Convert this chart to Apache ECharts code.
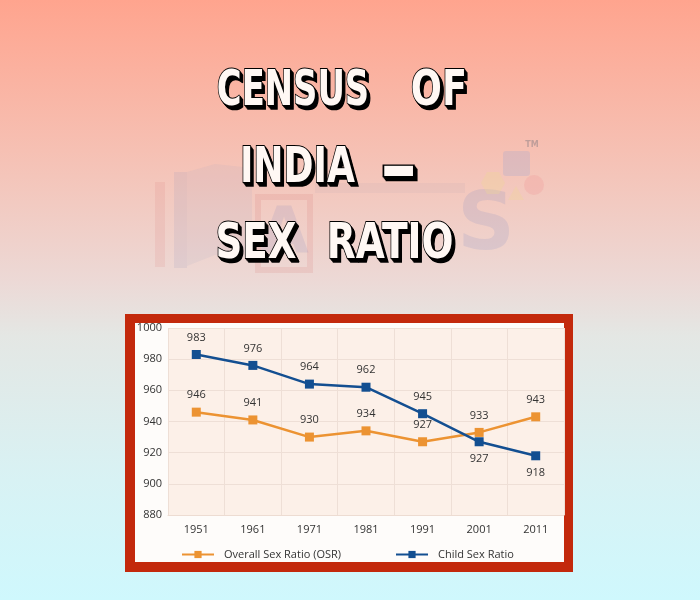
<!DOCTYPE html>
<html><head><meta charset="utf-8">
<script src="https://cdn.jsdelivr.net/npm/echarts@6/dist/echarts.min.js"></script>
<style>html,body{margin:0;padding:0;}#c{width:700px;height:600px;}</style>
</head><body><div id="c"></div>
<script>
// ---- data ----
const years = ['1951','1961','1971','1981','1991','2001','2011'];
const osrValues = [946, 941, 930, 934, 927, 933, 943];
const childValues = [983, 976, 964, 962, 945, 927, 918];
const childLabelBelow = [false, false, false, false, false, true, true];
const seriesNames = ['Overall Sex Ratio (OSR)', 'Child Sex Ratio'];
const yMin = 880, yMax = 1000, yStep = 20;
const titleLines = ['CENSUS OF', 'INDIA -', 'SEX RATIO'];

// ---- title layout (word ink boxes) ----
const titleBoxes = [
  {t:'CENSUS', x1:218, x2:367, y1:68, y2:106},
  {t:'OF',     x1:412, x2:464, y1:68, y2:106},
  {t:'INDIA',  x1:243, x2:355, y1:145, y2:182},
  {t:'-',      x1:384, x2:413, y1:164, y2:175},
  {t:'SEX',    x1:218, x2:296, y1:221, y2:259},
  {t:'RATIO',  x1:330, x2:452, y1:221, y2:259}
];
const TFONT = 'bold 58px "DejaVu Sans"';
const mctx = document.createElement('canvas').getContext('2d');
mctx.font = TFONT; mctx.textBaseline = 'middle'; mctx.textAlign = 'left';

const graphics = [];
// watermark (faint)
const wm = (o) => { o.z = -30; o.silent = true; graphics.push(o); };
wm({type:'rect', shape:{x:155,y:182,width:10,height:85}, style:{fill:'rgba(215,110,110,0.12)'}});
wm({type:'rect', shape:{x:174,y:172,width:13,height:96}, style:{fill:'rgba(130,140,185,0.13)'}});
wm({type:'polygon', shape:{points:[[187,172],[215,164],[252,168],[252,258],[215,255],[187,266]]}, style:{fill:'rgba(150,155,195,0.10)'}});
wm({type:'rect', shape:{x:258,y:197,width:52,height:73}, style:{fill:'none', stroke:'rgba(205,90,90,0.13)', lineWidth:6}});
wm({type:'text', x:284, y:236, style:{text:'A', font:'bold 64px "DejaVu Sans"', fill:'rgba(120,130,185,0.15)', align:'center', verticalAlign:'middle'}});
wm({type:'rect', shape:{x:315,y:183,width:150,height:10}, style:{fill:'rgba(140,140,160,0.08)'}});
wm({type:'text', x:486, y:228, style:{text:'S', font:'bold 80px "DejaVu Sans"', fill:'rgba(110,130,195,0.15)', align:'center', verticalAlign:'middle'}});
wm({type:'rect', shape:{x:503,y:151,width:27,height:25,r:3}, style:{fill:'rgba(140,160,215,0.22)'}});
wm({type:'polygon', shape:{points:[[481,183],[487,172],[499,172],[505,183],[499,194],[487,194]]}, style:{fill:'rgba(240,215,150,0.32)'}});
wm({type:'polygon', shape:{points:[[508,200],[516,186],[524,200]]}, style:{fill:'rgba(240,215,150,0.32)'}});
wm({type:'circle', shape:{cx:534,cy:185,r:10}, style:{fill:'rgba(240,150,150,0.28)'}});
wm({type:'text', x:532, y:145, style:{text:'TM', font:'bold 8px "DejaVu Sans"', fill:'rgba(110,110,120,0.4)', align:'center', verticalAlign:'middle'}});

// title words
titleBoxes.forEach(b => {
  const m = mctx.measureText(b.t);
  const inkL = -m.actualBoundingBoxLeft, inkR = m.actualBoundingBoxRight;
  const inkT = -m.actualBoundingBoxAscent, inkB = m.actualBoundingBoxDescent;
  const sx = (b.x2 - b.x1) / (inkR - inkL);
  const sy = (b.y2 - b.y1) / (inkB - inkT);
  const px = b.x1 - sx * inkL, py = b.y1 - sy * inkT;
  for (let k = 4; k >= 1; k--) {
    graphics.push({type:'text', z:-5, silent:true, x:px + k*0.8, y:py + k, scaleX:sx, scaleY:sy,
      style:{text:b.t, font:TFONT, fill:'#000', stroke:'#000', lineWidth:2, strokeNoScale:true, align:'left', verticalAlign:'middle'}});
  }
  graphics.push({type:'text', z:-4, silent:true, x:px, y:py, scaleX:sx, scaleY:sy,
    style:{text:b.t, font:TFONT, fill:'#fff8f4', stroke:'#000', lineWidth:2.2, strokeNoScale:true, align:'left', verticalAlign:'middle'}});
});

// chart frame
graphics.push({type:'rect', z:-10, silent:true, shape:{x:125,y:314,width:448,height:258}, style:{fill:'#c3290c'}});
graphics.push({type:'rect', z:-9, silent:true, shape:{x:135,y:323,width:429,height:239}, style:{fill:'#fefcfa'}});

const labelStyle = {show:true, color:'#333', fontSize:11, fontFamily:'"Open Sans", sans-serif', distance:7};

const chart = echarts.init(document.getElementById('c'), null, {renderer:'canvas'});
chart.setOption({
  animation:false,
  backgroundColor:{type:'linear', x:0, y:0, x2:0, y2:1, colorStops:[
    {offset:0, color:'#ffa48e'}, {offset:0.25, color:'#f6c0b3'}, {offset:0.47, color:'#ecd9d6'},
    {offset:0.56, color:'#e4e7e4'}, {offset:0.8, color:'#d8f2f4'}, {offset:1, color:'#cff8fd'}]},
  graphic:{elements:graphics},
  grid:{left:168, right:136, top:328, bottom:85, show:true, backgroundColor:'#fcf0e8', borderWidth:0},
  xAxis:{type:'category', data:years, boundaryGap:true,
    axisLine:{show:true, lineStyle:{color:'#eddcd2'}}, axisTick:{show:false},
    splitLine:{show:true, lineStyle:{color:'#eedfd6', width:1}},
    axisLabel:{color:'#333', fontSize:11, fontFamily:'"Open Sans", sans-serif', margin:9}},
  yAxis:{type:'value', min:yMin, max:yMax, interval:yStep,
    axisLine:{show:false}, axisTick:{show:false},
    splitLine:{lineStyle:{color:'#eedfd6', width:1}},
    axisLabel:{color:'#333', fontSize:11, fontFamily:'"Open Sans", sans-serif', margin:6, formatter:(v) => String(v)}},
  legend:{left:176, top:544, itemWidth:32, itemHeight:9, itemGap:54,
    textStyle:{color:'#333', fontSize:11, fontFamily:'"Open Sans", sans-serif', padding:[0,0,0,5]},
    data:seriesNames},
  series:[
    {name:seriesNames[0], type:'line', data:osrValues, color:'#ec9332',
     symbol:'rect', symbolSize:9, lineStyle:{width:2.5, color:'#ec9332'}, itemStyle:{color:'#ec9332'},
     label:Object.assign({position:'top'}, labelStyle)},
    {name:seriesNames[1], type:'line', color:'#134f91',
     data:childValues.map((v,i) => ({value:v, label:{position: childLabelBelow[i] ? 'bottom' : 'top'}})),
     symbol:'rect', symbolSize:9, lineStyle:{width:2.5, color:'#134f91'}, itemStyle:{color:'#134f91'},
     label:Object.assign({position:'top'}, labelStyle)}
  ]
});
</script>
</body></html>
